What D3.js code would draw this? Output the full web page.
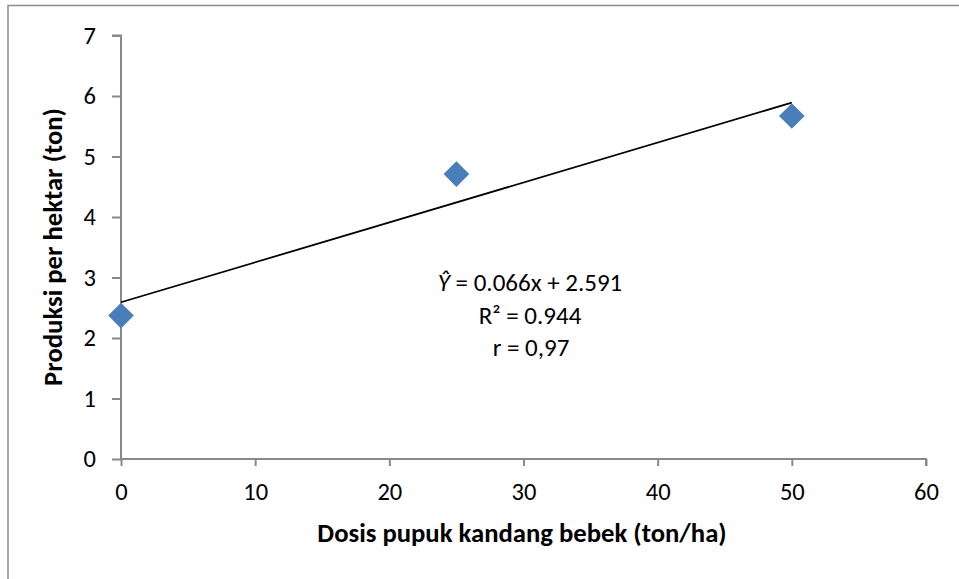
<!DOCTYPE html>
<html>
<head>
<meta charset="utf-8">
<script src="https://cdn.jsdelivr.net/npm/d3@7"></script>
<style>
  html, body { margin: 0; padding: 0; background: #fff; }
  svg { display: block; font-family: Carlito, Lato, "Open Sans", sans-serif; }
</style>
</head>
<body>
<svg id="chart" width="959" height="579"></svg>
<script>
// Data
const dosis = [0, 25, 50];
const produksi = [2.37, 4.71, 5.67];
const regSlope = 0.066;
const regIntercept = 2.591;
const xTicks = [0, 10, 20, 30, 40, 50, 60];
const yTicks = [0, 1, 2, 3, 4, 5, 6, 7];
const eqLines = ["= 0.066x + 2.591", "R² = 0.944", "r = 0,97"];
const xTitle = "Dosis pupuk kandang bebek (ton/ha)";
const yTitle = "Produksi per hektar (ton)";

const svg = d3.select("#chart");
const axisColor = "#898989";

// outer chart border (only top/left visible in frame)
svg.append("rect")
  .attr("x", 8).attr("y", 5.5)
  .attr("width", 1000).attr("height", 700)
  .attr("fill", "none").attr("stroke", "#8c8c8c").attr("stroke-width", 1.5);

const x = d3.scaleLinear().domain([0, 60]).range([121, 926]);
const y = d3.scaleLinear().domain([0, 7]).range([459, 35.5]);

// Y axis
const yAxis = svg.append("g").attr("transform", `translate(${x(0)},0)`)
  .call(d3.axisLeft(y).tickValues(yTicks).tickSize(9).tickPadding(16).tickFormat(d3.format("d")));
// X axis
const xAxis = svg.append("g").attr("transform", `translate(0,${y(0)})`)
  .call(d3.axisBottom(x).tickValues(xTicks).tickSize(7).tickPadding(17).tickFormat(d3.format("d")));

[yAxis, xAxis].forEach(g => {
  g.select(".domain").attr("stroke", axisColor).attr("stroke-width", 2);
  g.selectAll(".tick line").attr("stroke", axisColor).attr("stroke-width", 2);
  g.selectAll(".tick text").attr("fill", "#000").style("font-size", "24.5px")
    .style("font-family", "Carlito, Lato, 'Open Sans', sans-serif");
});
yAxis.select(".domain").attr("d", `M0,${y(0)}V${y(7)}H-9`);
xAxis.select(".domain").attr("d", `M${x(0)},0H${x(60)}V7`);

// regression line
svg.append("line")
  .attr("x1", x(0)).attr("y1", y(regIntercept))
  .attr("x2", x(50)).attr("y2", y(regIntercept + regSlope * 50))
  .attr("stroke", "#000").attr("stroke-width", 1.8);

// markers
svg.selectAll("path.pt").data(dosis.map((d, i) => [d, produksi[i]])).enter()
  .append("path").attr("class", "pt")
  .attr("d", d3.symbol().type(d3.symbolDiamond2).size(420))
  .attr("transform", d => `translate(${x(d[0])},${y(d[1])})`)
  .attr("fill", "#4a7ebb");

// equation text
const eq = svg.append("g").style("font-size", "25px").attr("fill", "#000");
const t1 = eq.append("text").attr("x", 530).attr("y", 291).attr("text-anchor", "middle");
t1.append("tspan").style("font-style", "italic").text("Ŷ");
t1.append("tspan").text(" " + eqLines[0]);
eq.append("text").attr("x", 530).attr("y", 324).attr("text-anchor", "middle").text(eqLines[1]);
eq.append("text").attr("x", 531).attr("y", 356).attr("text-anchor", "middle").text(eqLines[2]);

// axis titles
svg.append("text").attr("x", 522).attr("y", 542).attr("text-anchor", "middle")
  .style("font-size", "26.7px").style("font-weight", "bold").text(xTitle);
svg.append("text").attr("transform", "translate(62,247) rotate(-90)").attr("text-anchor", "middle")
  .style("font-size", "26.7px").style("font-weight", "bold").text(yTitle);
</script>
</body>
</html>
